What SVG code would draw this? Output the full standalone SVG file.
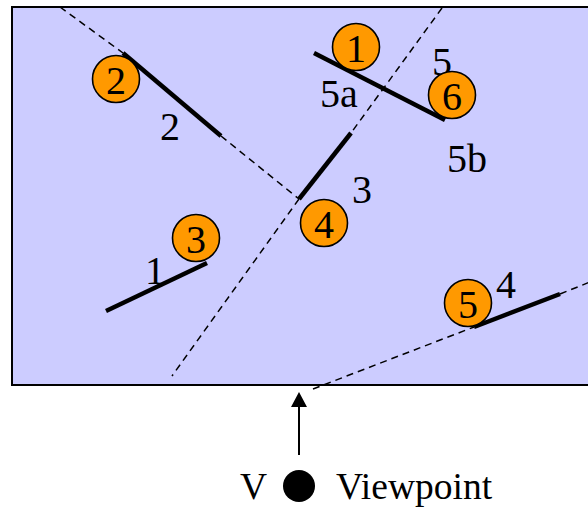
<svg xmlns="http://www.w3.org/2000/svg" width="588" height="508" viewBox="0 0 588 508">
<style>
.dash{stroke:#000;stroke-width:1.5;stroke-dasharray:7,5;fill:none}
.seg{stroke:#000;stroke-width:4.5;fill:none}
.mk circle{fill:#FF9900;stroke:#000;stroke-width:1.6}
text{font-family:"Liberation Serif","Times New Roman",serif;font-size:40px;fill:#000}
.mk text{text-anchor:middle}
</style>
<rect id="scene" x="12" y="7" width="590" height="378" fill="#CCCCFF" stroke="#000" stroke-width="2"/>
<g id="connectors">
<path class="dash" d="M60,7 L123,53"/>
<path class="dash" d="M221,136 L299,199"/>
<path class="dash" d="M442,8 L351,133"/>
<path class="dash" d="M299,199 L172,376"/>
<path class="dash" d="M313,389 L474,327"/>
<path class="dash" d="M560,294 L590,282"/>
<path d="M299,455 L299,406" stroke="#000" stroke-width="2"/>
<path d="M291,407 L299,392 L307,407 z" fill="#000"/>
</g>
<g id="seg1"><path class="seg" d="M106,311 L207,263"/><text x="145" y="284">1</text></g>
<g id="seg2"><path class="seg" d="M123,53 L221,136"/><text x="160" y="140">2</text></g>
<g id="seg3"><path class="seg" d="M299,199 L351,133"/><text x="352" y="203">3</text></g>
<g id="seg4"><path class="seg" d="M474,327 L560,294"/><text x="496" y="298">4</text></g>
<g id="seg5"><path class="seg" d="M314,53 L445,120"/><text x="432" y="75">5</text><text x="320" y="107">5a</text><text x="447" y="172">5b</text></g>
<g id="m1" class="mk"><circle cx="356" cy="47" r="23.5"/><text x="356" y="62">1</text></g>
<g id="m2" class="mk"><circle cx="116" cy="79" r="23.5"/><text x="116" y="94">2</text></g>
<g id="m3" class="mk"><circle cx="196" cy="238" r="23.5"/><text x="196" y="253">3</text></g>
<g id="m4" class="mk"><circle cx="324" cy="223" r="23.5"/><text x="324" y="238">4</text></g>
<g id="m5" class="mk"><circle cx="468" cy="303" r="23.5"/><text x="468" y="318">5</text></g>
<g id="m6" class="mk"><circle cx="452" cy="95" r="23.5"/><text x="452" y="110">6</text></g>
<g id="viewpoint">
<circle cx="299" cy="486" r="16" fill="#000"/>
<text x="240" y="499" style="font-size:37.5px">V</text>
<text x="336" y="499" style="font-size:37.5px">Viewpoint</text>
</g>
</svg>
